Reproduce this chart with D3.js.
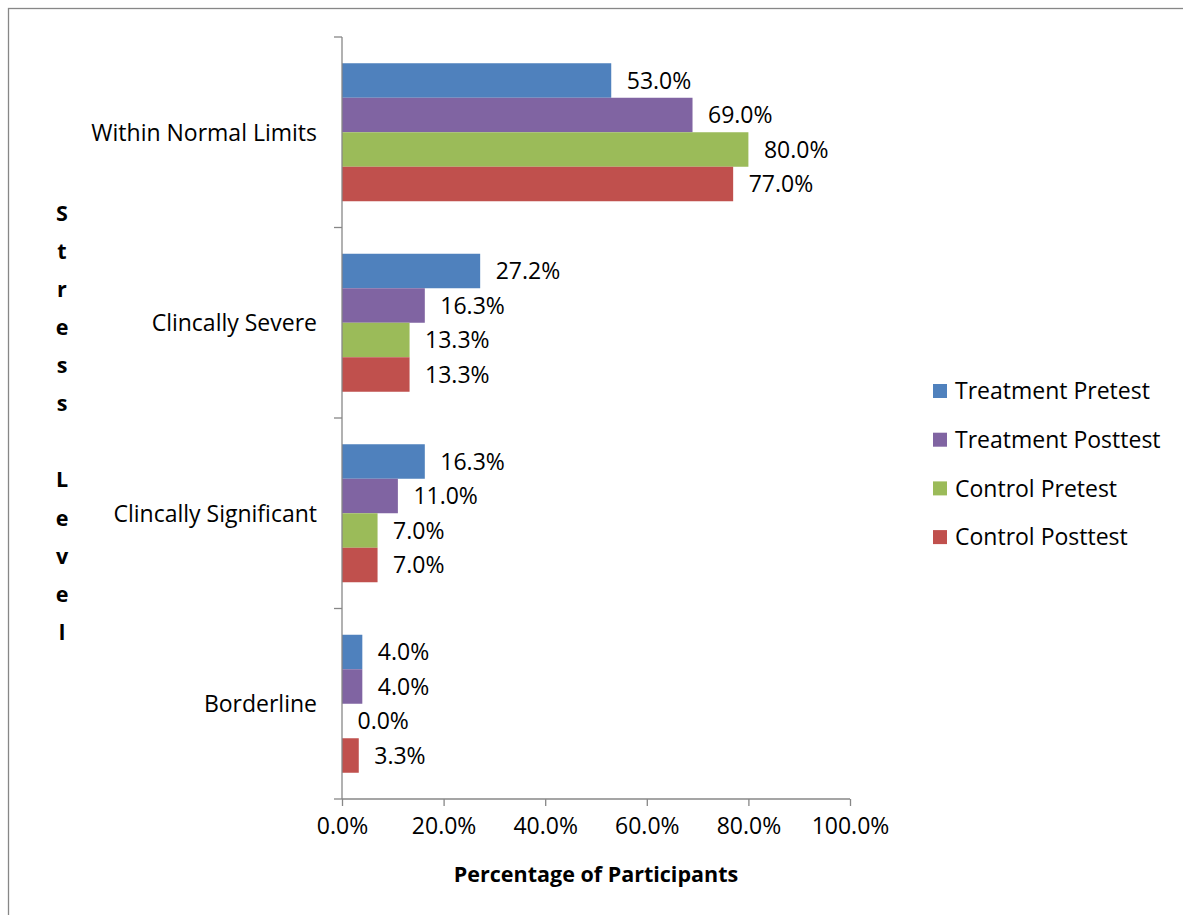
<!DOCTYPE html>
<html>
<head>
<meta charset="utf-8">
<script src="https://cdn.jsdelivr.net/npm/d3@7"></script>
<style>
  html, body { margin: 0; padding: 0; background: #fff; }
  svg { display: block; font-family: "Open Sans", Lato, sans-serif; }
</style>
</head>
<body>
<svg id="chart" width="1183" height="915"></svg>
<script>
// Stress level categories, top to bottom
const categories = ["Within Normal Limits", "Clincally Severe", "Clincally Significant", "Borderline"];
// Series names (legend order, and order of bars within each group)
const seriesNames = ["Treatment Pretest", "Treatment Posttest", "Control Pretest", "Control Posttest"];
const seriesColors = ["#4F81BD", "#8064A2", "#9BBB59", "#C0504D"];
// Percentages per series, in category order
const treatmentPretest  = [53.0, 27.2, 16.3, 4.0];
const treatmentPosttest = [69.0, 16.3, 11.0, 4.0];
const controlPretest    = [80.0, 13.3, 7.0, 0.0];
const controlPosttest   = [77.0, 13.3, 7.0, 3.3];
const xTicks = [0, 20, 40, 60, 80, 100];
const yTitleLetters = ["S", "t", "r", "e", "s", "s", "", "L", "e", "v", "e", "l"];

const seriesValues = [treatmentPretest, treatmentPosttest, controlPretest, controlPosttest];
const rows = categories.map((c, i) => ({
  category: c,
  values: seriesNames.map((s, j) => ({ series: s, value: seriesValues[j][i], color: seriesColors[j] }))
}));

const svg = d3.select("#chart");
const plot = { left: 342, right: 850, top: 37, bottom: 799 };
const fontSize = 23;
const titleSize = 21.5;
const axisGrey = "#878787";

// Outer chart border
svg.append("rect")
  .attr("x", 8.5).attr("y", 8.5)
  .attr("width", 1200).attr("height", 1000)
  .attr("fill", "none").attr("stroke", axisGrey).attr("stroke-width", 1.3);

const x = d3.scaleLinear().domain([0, 100]).range([plot.left, plot.right]);
const y0 = d3.scaleBand().domain(categories).range([plot.top, plot.bottom])
  .paddingInner(0.2756).paddingOuter(0.1378);
const y1 = d3.scaleBand().domain(seriesNames).range([0, y0.bandwidth()]);

// Bars
const groups = svg.append("g").selectAll("g").data(rows).join("g")
  .attr("transform", d => `translate(0,${y0(d.category)})`);

groups.selectAll("rect").data(d => d.values).join("rect")
  .attr("x", x(0))
  .attr("y", d => y1(d.series))
  .attr("width", d => x(d.value) - x(0))
  .attr("height", y1.bandwidth())
  .attr("fill", d => d.color);

// Value labels
groups.selectAll("text").data(d => d.values).join("text")
  .attr("x", d => x(d.value) + 15.5)
  .attr("y", d => y1(d.series) + y1.bandwidth() / 2)
  .attr("dy", "0.36em")
  .attr("font-size", fontSize)
  .attr("fill", "#000")
  .text(d => d.value.toFixed(1) + "%");

// X axis
const xAxis = svg.append("g")
  .attr("transform", `translate(0,${plot.bottom})`)
  .call(d3.axisBottom(x).tickValues(xTicks).tickSize(7).tickPadding(12)
    .tickFormat(d => d.toFixed(1) + "%"));
xAxis.select(".domain").attr("stroke", axisGrey).attr("stroke-width", 1.3)
  .attr("d", `M${plot.left},0H${plot.right}`);
xAxis.selectAll(".tick line").attr("stroke", axisGrey).attr("stroke-width", 1.3);
xAxis.selectAll(".tick text").attr("font-size", fontSize).attr("fill", "#000")
  .attr("font-family", "'Open Sans', Lato, sans-serif");

// Y axis: category separators as ticks
const yAxisG = svg.append("g");
yAxisG.append("line")
  .attr("x1", plot.left).attr("x2", plot.left)
  .attr("y1", plot.top).attr("y2", plot.bottom)
  .attr("stroke", axisGrey).attr("stroke-width", 1.3);
const sepYs = categories.map(c => y0(c) - y0.step() * y0.paddingOuter()).concat([plot.bottom]);
yAxisG.selectAll("line.sep").data(sepYs).join("line").attr("class", "sep")
  .attr("x1", plot.left - 8).attr("x2", plot.left)
  .attr("y1", d => d).attr("y2", d => d)
  .attr("stroke", axisGrey).attr("stroke-width", 1.3);
yAxisG.selectAll("text").data(categories).join("text")
  .attr("x", 317)
  .attr("y", d => y0(d) + y0.bandwidth() / 2)
  .attr("dy", "0.36em")
  .attr("text-anchor", "end")
  .attr("font-size", fontSize)
  .text(d => d);

// Axis titles
svg.append("text")
  .attr("x", (plot.left + plot.right) / 2).attr("y", 874)
  .attr("dy", "0.36em")
  .attr("text-anchor", "middle")
  .attr("font-size", titleSize).attr("font-weight", "bold")
  .text("Percentage of Participants");

svg.append("g").selectAll("text").data(yTitleLetters).join("text")
  .attr("x", 62)
  .attr("y", (d, i) => 213 + i * 38.1)
  .attr("dy", "0.36em")
  .attr("text-anchor", "middle")
  .attr("font-size", titleSize).attr("font-weight", "bold")
  .text(d => d);

// Legend
const legend = svg.append("g").selectAll("g").data(seriesNames).join("g")
  .attr("transform", (d, i) => `translate(933,${391 + i * 48.7})`);
legend.append("rect")
  .attr("x", 0).attr("y", -7).attr("width", 14).attr("height", 14)
  .attr("fill", (d, i) => seriesColors[i]);
legend.append("text")
  .attr("x", 22).attr("y", 0).attr("dy", "0.36em")
  .attr("font-size", fontSize)
  .text(d => d);
</script>
</body>
</html>
